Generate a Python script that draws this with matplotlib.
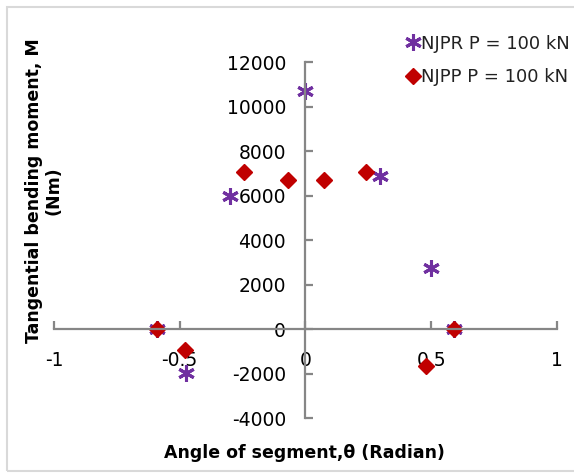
import numpy as np
import matplotlib.pyplot as plt
from matplotlib.patches import Rectangle

# values
theta_njpr = [-0.59, -0.475, -0.30, 0.0, 0.295, 0.50, 0.59]
m_njpr = [0, -1970, 6000, 10700, 6870, 2760, 0]

theta_njpp = [-0.59, -0.48, -0.243, -0.071, 0.073, 0.24, 0.478, 0.59]
m_njpp = [0, -920, 7080, 6720, 6720, 7080, -1670, 0]

x_ticks = [-1, -0.5, 0, 0.5, 1]
x_labels = ["-1", "-0.5", "0", "0.5", "1"]
y_ticks = [-4000, -2000, 0, 2000, 4000, 6000, 8000, 10000, 12000]

purple = "#7030A0"
red = "#C00000"
grey = "#868686"

plt.rcParams["axes.unicode_minus"] = False

fig = plt.figure(figsize=(5.74, 4.74), dpi=100)
ax = fig.add_axes([0.094, 0.118, 0.876, 0.751])

ax.plot(theta_njpr, m_njpr, linestyle="none", marker=(6, 2, 0), markersize=12,
        markeredgewidth=2.2, color=purple, label="NJPR P = 100 kN", clip_on=False)
ax.plot(theta_njpp, m_njpp, linestyle="none", marker="D", markersize=8.5,
        color=red, label="NJPP P = 100 kN", clip_on=False)

ax.set_xlim(-1, 1)
ax.set_ylim(-4000, 12000)
ax.set_xticks(x_ticks)
ax.set_xticklabels(x_labels)
ax.set_yticks(y_ticks)

# axes cross at the origin, Excel style
ax.spines["left"].set_position(("data", 0))
ax.spines["bottom"].set_position(("data", 0))
ax.spines["top"].set_visible(False)
ax.spines["right"].set_visible(False)
for s in ["left", "bottom"]:
    ax.spines[s].set_color(grey)
    ax.spines[s].set_linewidth(1.6)
ax.tick_params(direction="in", length=6, width=1.6, color=grey,
               labelsize=13.5, labelcolor="black")
ax.tick_params(axis="x", pad=16)
ax.tick_params(axis="y", pad=14)

ax.patch.set_visible(False)

fig.text(0.53, 0.044, "Angle of segment,θ (Radian)", ha="center", va="center",
         fontsize=12.5, fontweight="bold")
fig.text(0.077, 0.597, "Tangential bending moment, M\n(Nm)", ha="center",
         va="center", rotation=90, fontsize=12.5, fontweight="bold",
         multialignment="center", linespacing=1.1)

leg = fig.legend(loc="upper right", bbox_to_anchor=(1.012, 0.95), frameon=False,
                 fontsize=13, handlelength=0.6, handletextpad=0.15,
                 borderaxespad=0.2, labelspacing=0.85)
for t in leg.get_texts():
    t.set_color("#222222")

fig.patches.append(Rectangle((0.012, 0.006), 1.2, 0.98, transform=fig.transFigure,
                             fill=False, edgecolor="#D9D9D9", linewidth=1.5))

fig.savefig("out.png", dpi=100)
